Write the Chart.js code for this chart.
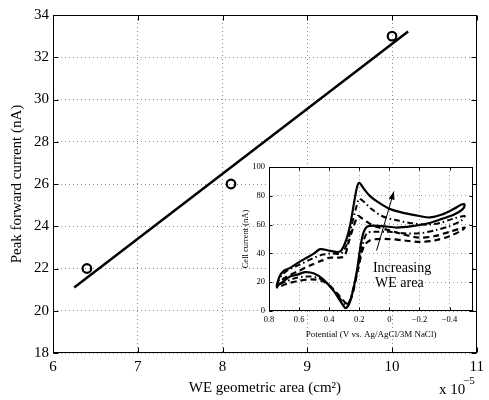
<!DOCTYPE html>
<html><head><meta charset="utf-8">
<script src="https://cdn.jsdelivr.net/npm/chart.js@4/dist/chart.umd.min.js"></script>
<style>
html,body{margin:0;padding:0;background:#fff;}
#wrap{position:relative;width:489px;height:400px;overflow:hidden;}
#main{position:absolute;left:0;top:0;}
#inset{position:absolute;left:235px;top:158px;}
</style></head><body>
<div id="wrap">
<canvas id="main" width="489" height="400"></canvas>
<canvas id="inset" width="245" height="187"></canvas>
</div>
<script>
// ---------- main chart data ----------
const areaX = [6.4, 8.1, 10.0];              // WE geometric area (x 1e-5 cm^2)
const peakCurrent = [22, 26, 33];            // nA
const fitX = [6.25, 10.19];
const fitY = [21.1, 33.22];
const mainXTicks = [6, 7, 8, 9, 10, 11];
const mainYTicks = [18, 20, 22, 24, 26, 28, 30, 32, 34];

// ---------- inset data (potential V, current nA) ----------
const solidPot = [0.75,0.73,0.70,0.66,0.60,0.55,0.50,0.46,0.40,0.35,0.32,0.285,0.26,0.235,0.215,0.20,0.17,0.13,0.08,0.00,-0.10,-0.20,-0.27,-0.35,-0.43,-0.48,-0.50,
  -0.49,-0.43,-0.35,-0.26,-0.15,-0.05,0.05,0.14,0.17,0.19,0.22,0.26,0.29,0.32,0.37,0.44,0.50,0.56,0.62,0.66,0.70,0.75];
const solidCur = [17,24,28,30,34,37,40,43,42,41,42,50,60,75,86,89,85,80,76,71,68,66,65,67,71,74,74,
  71,67,64,61,59,58,59,59,55,46,25,7,2,6,14,22,26,27,25,24,21,17];
const dashDotPot = [0.75,0.72,0.68,0.60,0.52,0.45,0.38,0.32,0.28,0.25,0.22,0.20,0.17,0.12,0.05,-0.05,-0.15,-0.25,-0.33,-0.42,-0.50,
  -0.48,-0.40,-0.30,-0.20,-0.10,0.00,0.10,0.15,0.18,0.22,0.26,0.29,0.33,0.40,0.47,0.55,0.62,0.70,0.75];
const dashDotCur = [18,24,28,32,36,39,40,40,47,60,72,78,76,71,66,63,61,60,61,64,66,
  63,59,56,54,54,55,55,54,45,25,8,4,9,18,23,24,23,20,18];
const dashedPot = [0.75,0.72,0.68,0.60,0.52,0.45,0.40,0.35,0.30,0.27,0.24,0.21,0.19,0.15,0.10,0.00,-0.10,-0.20,-0.30,-0.40,-0.50,
  -0.48,-0.40,-0.30,-0.20,-0.10,0.00,0.08,0.13,0.17,0.21,0.25,0.28,0.32,0.38,0.45,0.52,0.60,0.68,0.75];
const dashedCur = [16,21,24,28,32,35,37,37,38,48,58,66,65,62,59,56,53,51,52,55,58,
  56,52,49,48,49,50,50,49,45,28,10,5,9,16,21,22,21,19,16];
const insetXTicks = [0.8, 0.6, 0.4, 0.2, 0, -0.2, -0.4];
const insetYTicks = [0, 20, 40, 60, 80, 100];
const arrowPot = [0.085, -0.03];   // tail, head
const arrowCur = [42, 83];
const noteLines = ['Increasing', 'WE area'];
const notePot = [0.109, 0.095];
const noteCur = [27.4, 16.6];

const serif = "'Liberation Serif','Times New Roman',serif";
const pts = (xs, ys) => xs.map((x, i) => ({x, y: ys[i]}));

function framePlugin(tickLen) {
  return {
    id: 'frame',
    afterDraw(chart) {
      const {ctx, chartArea: a, scales: {x, y}} = chart;
      const L = Math.round(a.left) + 0.5, R = Math.round(a.right) - 0.5;
      const T = Math.round(a.top) + 0.5, B = Math.round(a.bottom) - 0.5;
      ctx.save();
      ctx.strokeStyle = '#000'; ctx.lineWidth = 1; ctx.setLineDash([]);
      ctx.strokeRect(L, T, R - L, B - T);
      ctx.beginPath();
      x.ticks.forEach(t => {
        const px = Math.round(x.getPixelForValue(t.value)) + 0.5;
        ctx.moveTo(px, B); ctx.lineTo(px, B - tickLen);
        ctx.moveTo(px, T); ctx.lineTo(px, T + tickLen);
      });
      y.ticks.forEach(t => {
        const py = Math.round(y.getPixelForValue(t.value)) + 0.5;
        ctx.moveTo(L, py); ctx.lineTo(L + tickLen, py);
        ctx.moveTo(R, py); ctx.lineTo(R - tickLen, py);
      });
      ctx.stroke();
      ctx.restore();
    }
  };
}

const exponentPlugin = {
  id: 'exponent',
  afterDraw(chart) {
    const ctx = chart.ctx;
    ctx.save();
    ctx.fillStyle = '#000';
    ctx.textBaseline = 'alphabetic';
    ctx.textAlign = 'left';
    ctx.font = '15px ' + serif;
    ctx.fillText('x 10', 439, 394);
    ctx.font = '11px ' + serif;
    ctx.fillText('\u22125', 463, 384);
    ctx.restore();
  }
};

new Chart(document.getElementById('main'), {
  type: 'scatter',
  data: {
    datasets: [
      {
        type: 'line',
        data: pts(fitX, fitY),
        borderColor: '#000', borderWidth: 2.5, pointRadius: 0, fill: false
      },
      {
        data: pts(areaX, peakCurrent),
        pointStyle: 'circle', pointRadius: 4.3, borderWidth: 2.2,
        borderColor: '#000', backgroundColor: 'rgba(0,0,0,0)'
      }
    ]
  },
  options: {
    responsive: false, animation: false, devicePixelRatio: 1, events: [],
    layout: {padding: {left: 0, right: 8, top: 15, bottom: 0}},
    plugins: {legend: {display: false}, tooltip: {enabled: false}},
    scales: {
      x: {
        type: 'linear', min: 6, max: 11,
        afterBuildTicks: s => { s.ticks = mainXTicks.map(v => ({value: v})); },
        afterFit: s => { s.height = 47; },
        grid: {color: '#8c8c8c', drawTicks: false, lineWidth: 1},
        border: {display: false, dash: [1, 3]},
        ticks: {color: '#000', padding: 5, font: {family: serif, size: 15}, maxRotation: 0},
        title: {display: true, text: 'WE geometric area (cm\u00B2)', color: '#000',
                font: {family: serif, size: 15}, padding: {top: 0, bottom: 3}}
      },
      y: {
        type: 'linear', min: 18, max: 34,
        afterBuildTicks: s => { s.ticks = mainYTicks.map(v => ({value: v})); },
        afterFit: s => { s.width = 53; },
        grid: {color: '#8c8c8c', drawTicks: false, lineWidth: 1},
        border: {display: false, dash: [1, 3]},
        ticks: {color: '#000', padding: 4, font: {family: serif, size: 15}},
        title: {display: true, text: 'Peak forward current (nA)', color: '#000',
                font: {family: serif, size: 15}, padding: {top: 8, bottom: 0}}
      }
    }
  },
  plugins: [framePlugin(5), exponentPlugin]
});

// ---------- inset ----------
const whiteArea = {
  id: 'whiteArea',
  beforeDraw(chart) {
    const {ctx, chartArea: a} = chart;
    ctx.save(); ctx.fillStyle = '#fff';
    ctx.fillRect(a.left, a.top, a.right - a.left, a.bottom - a.top);
    ctx.restore();
  }
};
const notePlugin = {
  id: 'notes',
  afterDatasetsDraw(chart) {
    const {ctx, scales: {x, y}} = chart;
    ctx.save();
    const x0 = x.getPixelForValue(arrowPot[0]), y0 = y.getPixelForValue(arrowCur[0]);
    const x1 = x.getPixelForValue(arrowPot[1]), y1 = y.getPixelForValue(arrowCur[1]);
    ctx.strokeStyle = '#000'; ctx.fillStyle = '#000'; ctx.lineWidth = 1;
    ctx.beginPath(); ctx.moveTo(x0, y0); ctx.lineTo(x1, y1); ctx.stroke();
    const ang = Math.atan2(y1 - y0, x1 - x0), hl = 8, hw = 3;
    ctx.beginPath();
    ctx.moveTo(x1, y1);
    ctx.lineTo(x1 - hl * Math.cos(ang) + hw * Math.sin(ang), y1 - hl * Math.sin(ang) - hw * Math.cos(ang));
    ctx.lineTo(x1 - hl * Math.cos(ang) - hw * Math.sin(ang), y1 - hl * Math.sin(ang) + hw * Math.cos(ang));
    ctx.closePath(); ctx.fill();
    ctx.font = '14px ' + serif; ctx.textAlign = 'left'; ctx.textBaseline = 'alphabetic';
    noteLines.forEach((t, i) => ctx.fillText(t, x.getPixelForValue(notePot[i]), y.getPixelForValue(noteCur[i])));
    ctx.restore();
  }
};
const fmtPot = v => { const s = (Math.round(v * 10) / 10).toString(); return s.replace('-', '\u2212'); };

new Chart(document.getElementById('inset'), {
  type: 'scatter',
  data: {
    datasets: [
      {type: 'line', data: pts(solidPot, solidCur), borderColor: '#000', borderWidth: 2.2,
       pointRadius: 0, tension: 0.3, fill: false},
      {type: 'line', data: pts(dashDotPot, dashDotCur), borderColor: '#000', borderWidth: 2,
       borderDash: [6, 3, 1.5, 3], pointRadius: 0, tension: 0.3, fill: false},
      {type: 'line', data: pts(dashedPot, dashedCur), borderColor: '#000', borderWidth: 2.2,
       borderDash: [6, 4], pointRadius: 0, tension: 0.3, fill: false}
    ]
  },
  options: {
    responsive: false, animation: false, devicePixelRatio: 1, events: [],
    layout: {padding: {left: 0, right: 7, top: 8, bottom: 0}},
    plugins: {legend: {display: false}, tooltip: {enabled: false}},
    scales: {
      x: {
        type: 'linear', min: -0.556, max: 0.8, reverse: true,
        afterBuildTicks: s => { s.ticks = insetXTicks.map(v => ({value: v})); },
        afterFit: s => { s.height = 34; },
        grid: {color: '#999', drawTicks: false, lineWidth: 1},
        border: {display: false, dash: [1, 3]},
        ticks: {color: '#000', padding: 4, font: {family: serif, size: 8.5}, maxRotation: 0,
                callback: v => fmtPot(v)},
        title: {display: true, text: 'Potential (V vs. Ag/AgCl/3M NaCl)', color: '#000',
                font: {family: serif, size: 9}, padding: {top: 0, bottom: 4.5}}
      },
      y: {
        type: 'linear', min: 0, max: 100,
        afterBuildTicks: s => { s.ticks = insetYTicks.map(v => ({value: v})); },
        afterFit: s => { s.width = 34; },
        grid: {color: '#999', drawTicks: false, lineWidth: 1},
        border: {display: false, dash: [1, 3]},
        ticks: {color: '#000', padding: 4, font: {family: serif, size: 8.5}},
        title: {display: true, text: 'Cell current (nA)', color: '#000',
                font: {family: serif, size: 8.5}, padding: {top: 6, bottom: 0}}
      }
    }
  },
  plugins: [whiteArea, notePlugin, framePlugin(3)]
});
</script>
</body></html>
